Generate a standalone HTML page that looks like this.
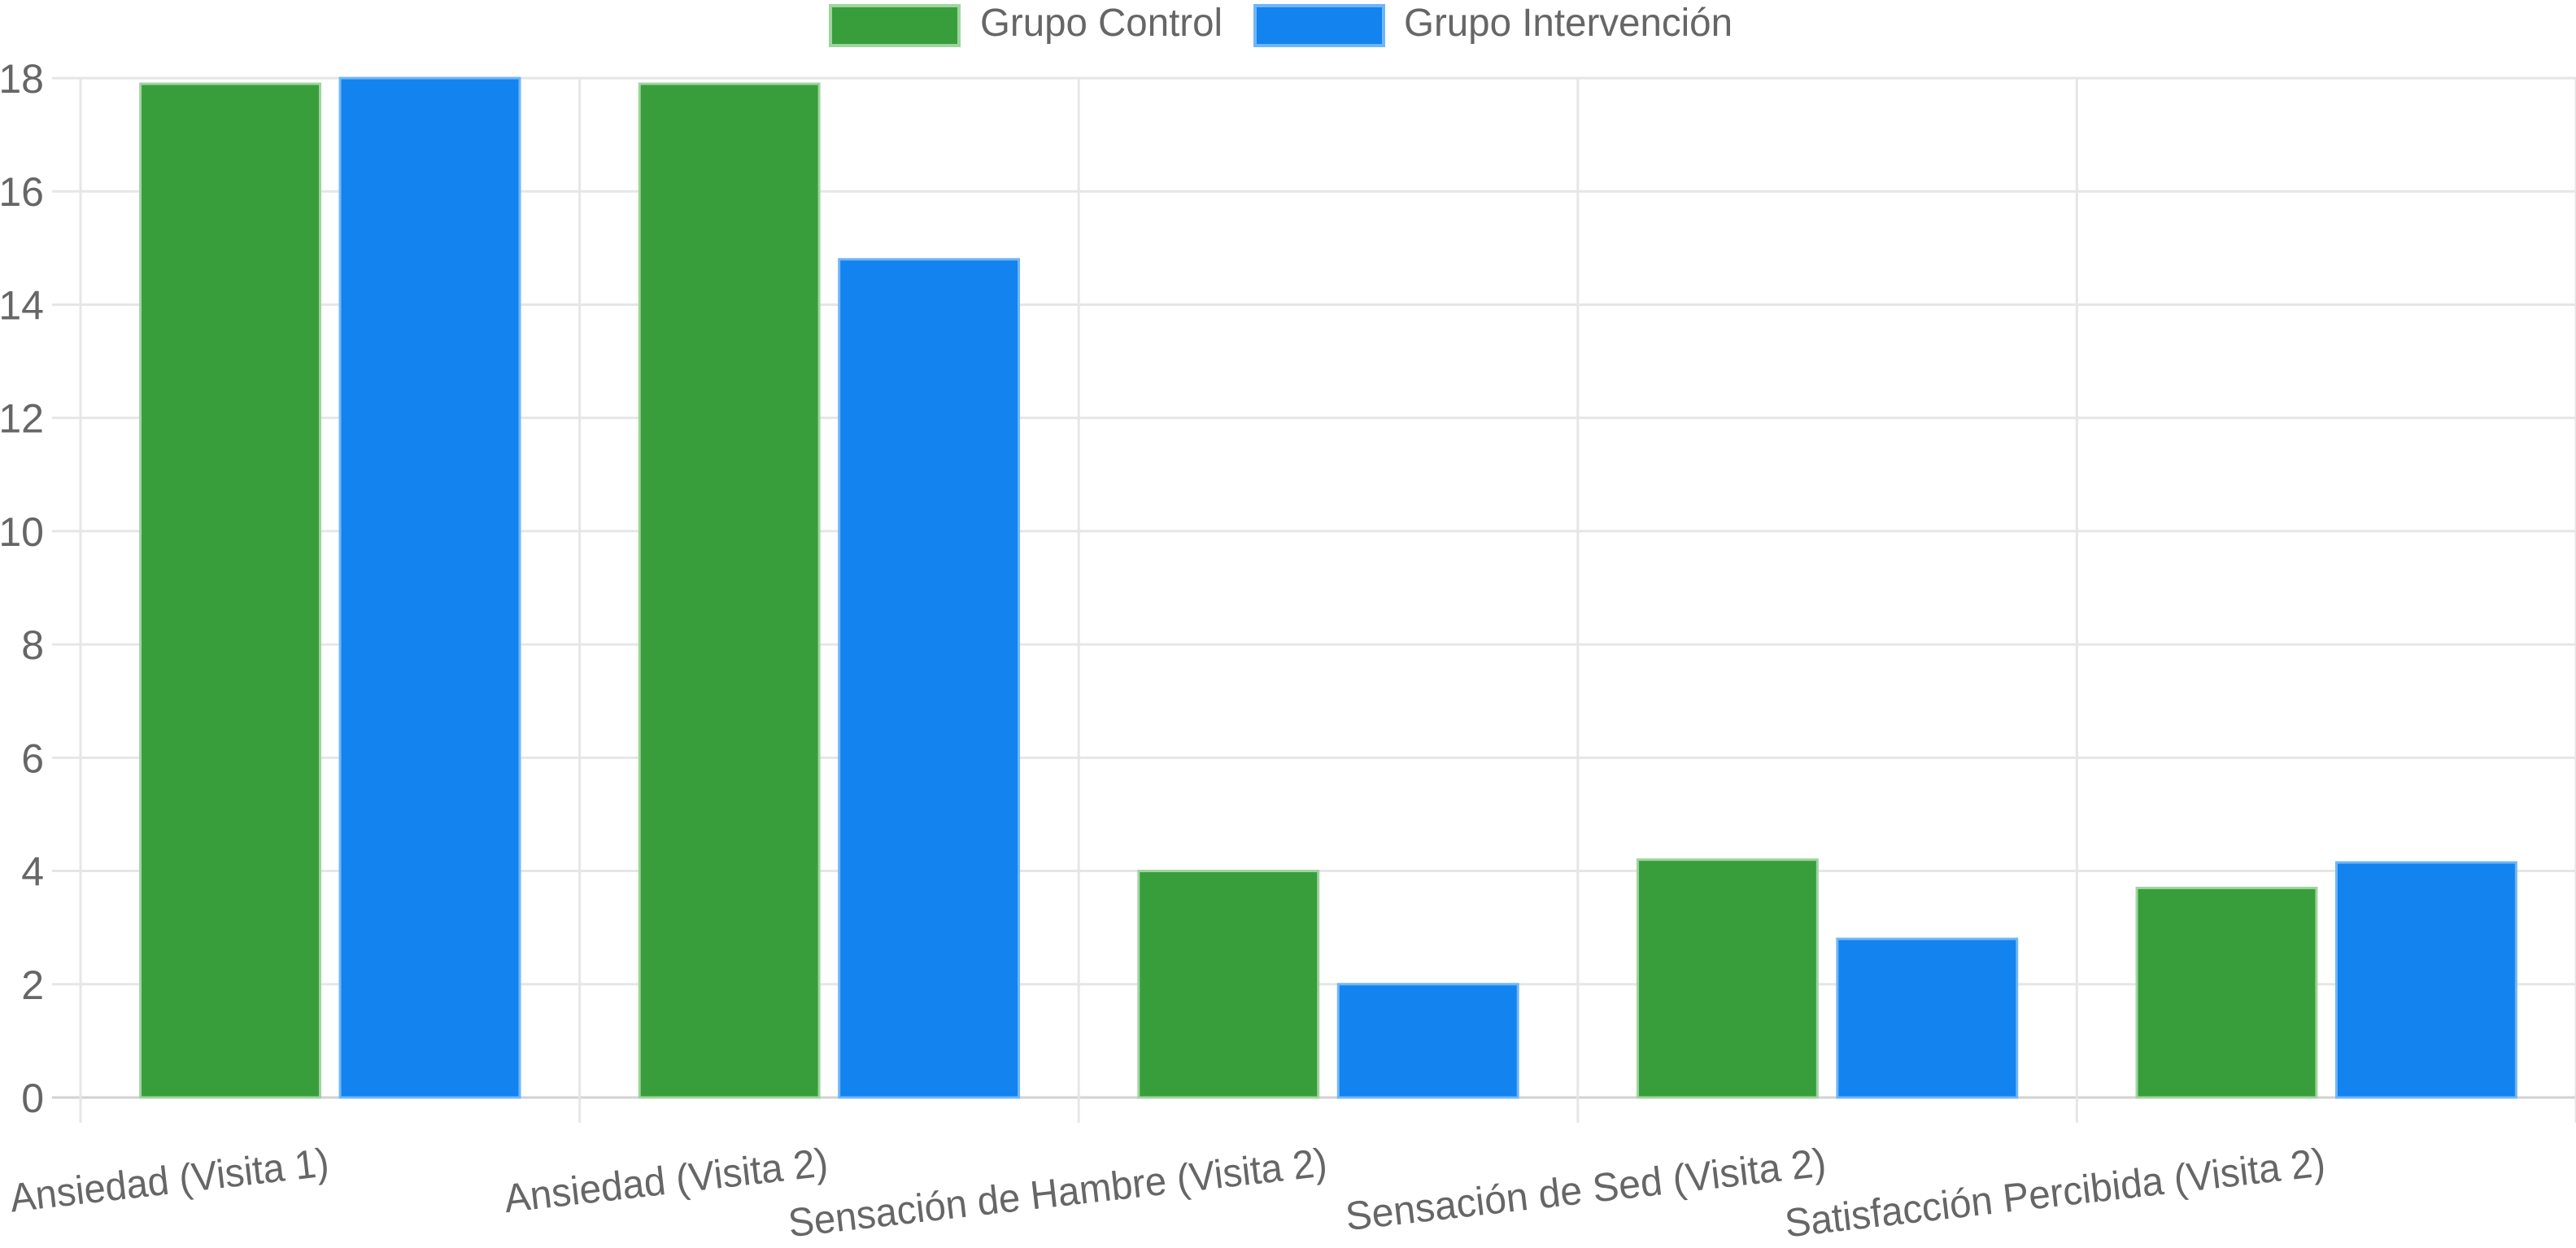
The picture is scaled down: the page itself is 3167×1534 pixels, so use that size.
<!DOCTYPE html>
<html><head><meta charset="utf-8"><style>
html,body{margin:0;padding:0;background:#fff;}
svg{display:block;font-family:"Liberation Sans",sans-serif;}
</style></head><body>
<svg id="chart" width="3167" height="1534" viewBox="0 0 3167 1534" xmlns="http://www.w3.org/2000/svg">
<g id="grid"></g>
<g id="bars"></g>
<g id="yticks"></g>
<g id="xticks"></g>
<g>
  <g>
    <rect x="1021" y="7" width="158" height="49" fill="#389e3b" stroke="#9fd49f" stroke-width="4"/>
    <text x="1205" y="44" font-size="48" fill="#666" textLength="298" lengthAdjust="spacingAndGlyphs">Grupo Control</text>
  </g>
  <g>
    <rect x="1543" y="7" width="158" height="49" fill="#1283ef" stroke="#6fb6f8" stroke-width="4"/>
    <text x="1726" y="44" font-size="48" fill="#666" textLength="404" lengthAdjust="spacingAndGlyphs">Grupo Intervención</text>
  </g>
</g>
</svg>
<script>
const categories = ["Ansiedad (Visita 1)","Ansiedad (Visita 2)","Sensación de Hambre (Visita 2)","Sensación de Sed (Visita 2)","Satisfacción Percibida (Visita 2)"];
const controlValues = [17.9, 17.9, 4.0, 4.2, 3.7];
const interventionValues = [18.0, 14.8, 2.0, 2.8, 4.15];
const yTicks = [0,2,4,6,8,10,12,14,16,18];
const labelLengths = [394, 400, 666, 594, 668];

const NS = "http://www.w3.org/2000/svg";
const X0 = 99, X1 = 3167, Y0 = 1349, YTOP = 96, YMAX = 18;
const bandW = (X1 - X0) / categories.length;
function y(v){ return Y0 - (v / YMAX) * (Y0 - YTOP); }
function bandStart(i){ return X0 + i * bandW; }
function mk(tag, attrs, parent){ const e = document.createElementNS(NS, tag); for (const k in attrs) e.setAttribute(k, attrs[k]); parent.appendChild(e); return e; }

const grid = document.getElementById('grid');
const bars = document.getElementById('bars');
const yt = document.getElementById('yticks');
const xt = document.getElementById('xticks');

yTicks.forEach(t => {
  const l = mk('line', {x1: 64, x2: X1, y1: y(t), y2: y(t), stroke: t === 0 ? '#d2d2d2' : '#e6e6e6', 'stroke-width': 3}, grid);
  
  
  const tx = mk('text', {x: 54, y: y(t) + 18, 'font-size': 50, fill: '#666', 'text-anchor': 'end'}, yt);
  tx.textContent = t;
  
  
});
for (let i = 0; i <= categories.length; i++) {
  const l = mk('line', {x1: bandStart(i), x2: bandStart(i), y1: YTOP, y2: 1380, stroke: '#e6e6e6', 'stroke-width': 3}, grid);
  
  
}
const barW = bandW * 0.8 / 2 * 0.9;
categories.forEach((c, i) => {
  const inner = bandStart(i) + bandW * 0.1;
  const half = bandW * 0.4;
  [[controlValues[i], '#389e3b', '#9fd49f', 'bar-control'], [interventionValues[i], '#1283ef', '#6fb6f8', 'bar-intervention']].forEach((s, k) => {
    const bx = inner + k * half + (half - barW) / 2;
    const r = mk('rect', {x: bx, y: y(s[0]), width: barW, height: Y0 - y(s[0]), fill: s[1], stroke: s[2], 'stroke-width': 3}, bars);
    
    
  });
  const cx = bandStart(i) + bandW / 2;
  const tx = mk('text', {x: 0, y: 0, 'font-size': 38, fill: '#666', 'text-anchor': 'end', transform: `translate(${cx} 1445) rotate(-6.5) scale(1 1.3)`, textLength: labelLengths[i], lengthAdjust: 'spacingAndGlyphs'}, xt);
  tx.textContent = c;
  
  
});
</script>
</body></html>
